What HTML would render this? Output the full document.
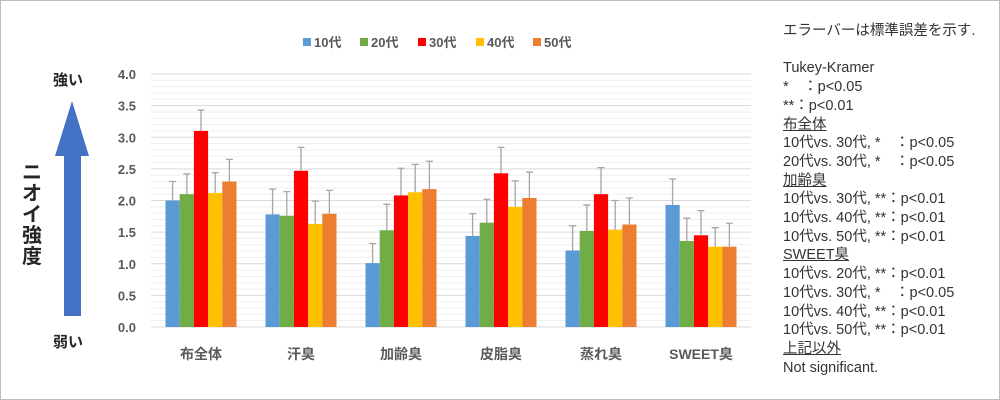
<!DOCTYPE html>
<html><head><meta charset="utf-8"><style>
html,body{margin:0;padding:0;background:#fff}
#wrap{position:relative;width:998px;height:398px;border:1px solid #bdbdbd;overflow:hidden;font-family:"Liberation Sans","Noto Sans CJK JP",sans-serif}
#notes{position:absolute;left:782px;top:21px;font-size:14.5px;color:#333;line-height:18.7px;white-space:pre}
#notes u{text-decoration:underline}
</style></head><body>
<div id="wrap">
<svg id="chart" width="760" height="398" style="position:absolute;left:0;top:0"></svg>
<div id="notes"><span>エラーバーは標準誤差を示す.</span>

Tukey-Kramer
*　：p&lt;0.05
**：p&lt;0.01
<u>布全体</u>
10代vs. 30代, *　：p&lt;0.05
20代vs. 30代, *　：p&lt;0.05
<u>加齢臭</u>
10代vs. 30代, **：p&lt;0.01
10代vs. 40代, **：p&lt;0.01
10代vs. 50代, **：p&lt;0.01
<u>SWEET臭</u>
10代vs. 20代, **：p&lt;0.01
10代vs. 30代, *　：p&lt;0.05
10代vs. 40代, **：p&lt;0.01
10代vs. 50代, **：p&lt;0.01
<u>上記以外</u>
Not significant.</div>
</div>
<script>
const categories=["布全体","汗臭","加齢臭","皮脂臭","蒸れ臭","SWEET臭"];
const seriesNames=["10代","20代","30代","40代","50代"];
const seriesColors=["#5b9bd5","#70ad47","#ff0000","#ffc000","#ed7d31"];
const s10=[2.0,1.78,1.01,1.44,1.21,1.93];
const s20=[2.1,1.76,1.53,1.65,1.52,1.36];
const s30=[3.1,2.47,2.08,2.43,2.1,1.45];
const s40=[2.12,1.63,2.13,1.9,1.54,1.27];
const s50=[2.3,1.79,2.18,2.04,1.62,1.27];
const e10=[0.3,0.4,0.31,0.35,0.39,0.41];
const e20=[0.32,0.38,0.41,0.37,0.41,0.36];
const e30=[0.33,0.37,0.43,0.41,0.42,0.39];
const e40=[0.32,0.36,0.44,0.41,0.46,0.3];
const e50=[0.35,0.37,0.44,0.41,0.42,0.37];
const yTicks=["0.0","0.5","1.0","1.5","2.0","2.5","3.0","3.5","4.0"];
const series=[s10,s20,s30,s40,s50], errs=[e10,e20,e30,e40,e50];
const NS="http://www.w3.org/2000/svg", svg=document.getElementById('chart');
const x0=150,x1=750,yBase=326,yTop=73,yMax=4;
const y=v=>yBase-(v/yMax)*(yBase-yTop);
const gw=(x1-x0)/categories.length, bw=14.2;
function el(t,a,txt){const e=document.createElementNS(NS,t);for(const k in a)e.setAttribute(k,a[k]);if(txt!=null)e.textContent=txt;svg.appendChild(e);return e;}
for(let v=0;v<=4.001;v+=0.1){const g=el('line',{x1:x0,x2:x1,y1:y(v),y2:y(v),stroke:Math.abs(v*2-Math.round(v*2))<1e-6?'#d9d9d9':'#efefef','stroke-width':1});

}
yTicks.forEach(t=>{const e=el('text',{x:135,y:y(+t)+5,'text-anchor':'end','font-size':13,'font-weight':'bold',fill:'#595959'},t);

});
categories.forEach((c,i)=>{const cx=x0+gw*(i+0.5);
series.forEach((s,j)=>{const bx=cx-2.5*bw+j*bw;
const r=el('rect',{x:bx,y:y(s[i]),width:bw,height:yBase-y(s[i]),fill:seriesColors[j]});


const ex=bx+bw/2, et=y(s[i]+errs[j][i]);
const l=el('path',{d:`M${ex},${y(s[i])}V${et}M${ex-3.5},${et}H${ex+3.5}`,stroke:'#a6a6a6','stroke-width':1.3,fill:'none'});

});
const t=el('text',{x:cx,y:358,'text-anchor':'middle','font-size':14,'font-weight':'bold',fill:'#595959'},c);

});
const lx=[302,359,417,475,532];
seriesNames.forEach((n,j)=>{const r=el('rect',{x:lx[j],y:37,width:8,height:8,fill:seriesColors[j]});


const t=el('text',{x:lx[j]+11,y:46,'font-size':13,'font-weight':'bold',fill:'#595959'},n);

});
const a=el('path',{d:'M63,315V155H54L71,100L88,155H80V315Z',fill:'#4472c4'});


const t1=el('text',{x:52,y:84,'font-size':15,'font-weight':'bold',fill:'#262626'},'強い');


const t2=el('text',{x:52,y:346,'font-size':15,'font-weight':'bold',fill:'#262626'},'弱い');


['ニ','オ','イ','強','度'].forEach((ch,i)=>{const t=el('text',{x:31,y:178+i*21,'text-anchor':'middle','font-size':20,'font-weight':'bold',fill:'#262626'},ch);

});
</script>
</body></html>
